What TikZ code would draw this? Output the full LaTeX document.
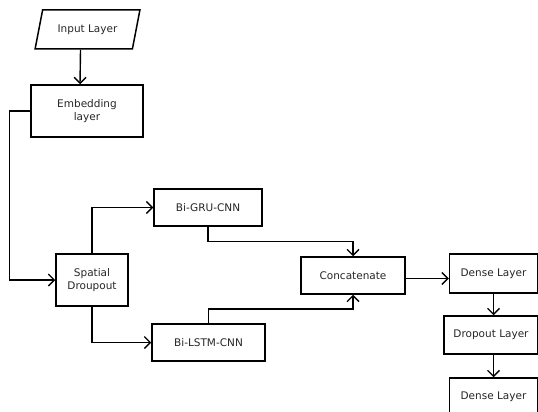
\documentclass[tikz,border=0pt]{standalone}
\usepackage{fontspec}
\setmainfont{DejaVu Sans}
\usetikzlibrary{arrows.meta}
\usetikzlibrary{positioning,shapes,calc}
\tikzset{layer/.style={rectangle,draw,line width=1.5pt,inner sep=0pt,font=\fontsize{10.5}{13.5}\selectfont,text=black!85},
		inputLayer/.style={trapezium,trapezium left angle=63,trapezium right angle=117,trapezium stretches=true,draw,line width=1.5pt,inner sep=0pt,font=\fontsize{10.5}{13.5}\selectfont,text=black!85},
		Dedge/.style={-{Straight Barb[length=6pt,width=12pt,line width=1.4pt]},line width=1.4pt},
		every node/.style={align=center}}

\begin{document}
\begin{tikzpicture}[x=1pt,y=-1pt]
				\useasboundingbox (0,0) rectangle (538,412);
				\node [inputLayer, minimum width=105pt, minimum height=39pt] (input) at (87.5,29.5) {Input Layer};
				\node [layer, minimum width=112pt, minimum height=52pt] (emb) at (87,111) {Embedding\\layer};
				\node [layer, minimum width=72pt, minimum height=52pt] (spatial) at (92,280) {Spatial\\Droupout};
				\node [layer, minimum width=108pt, minimum height=37pt] (gru) at (208,207.5) {Bi-GRU-CNN};
				\node [layer, minimum width=113pt, minimum height=37pt] (lstm) at (208.5,342.5) {Bi-LSTM-CNN};
				\node [layer, minimum width=104pt, minimum height=37pt] (concat) at (353,275.5) {Concatenate};
				\node [layer, minimum width=88pt, minimum height=39pt] (dense1) at (493.5,273.5) {Dense Layer};
				\node [layer, minimum width=94pt, minimum height=38pt] (dropout) at (491,335) {Dropout Layer};
				\node [layer, minimum width=88pt, minimum height=37pt] (dense2) at (493.5,396.5) {Dense Layer};
				%edges
				\draw[Dedge] ([xshift=-7pt]input.south) -- ([xshift=-7pt]emb.north);
				\draw[Dedge] (emb.west) -- ++(-21,0) |- (spatial.west);
				\draw[Dedge] (spatial.north) |- (gru.west);
				\draw[Dedge] (spatial.south) |- (lstm.west);
				\draw[Dedge] (gru.south) |- ($(gru.south)!.5!(gru.south |- concat.north)$) -| (concat.north);
				\draw[Dedge] (lstm.north) |- ($(lstm.north)!.5!(lstm.north |- concat.south)$) -| (concat.south);
				\draw[Dedge] ([yshift=-3pt]concat.east) -- ([yshift=-3pt]concat.east -| dense1.west);
				\draw[Dedge] (dense1.south) -- (dense1.south |- dropout.north);
				\draw[Dedge] (dropout.south -| dense2.north) -- (dense2.north);
			\end{tikzpicture}
\end{document}
